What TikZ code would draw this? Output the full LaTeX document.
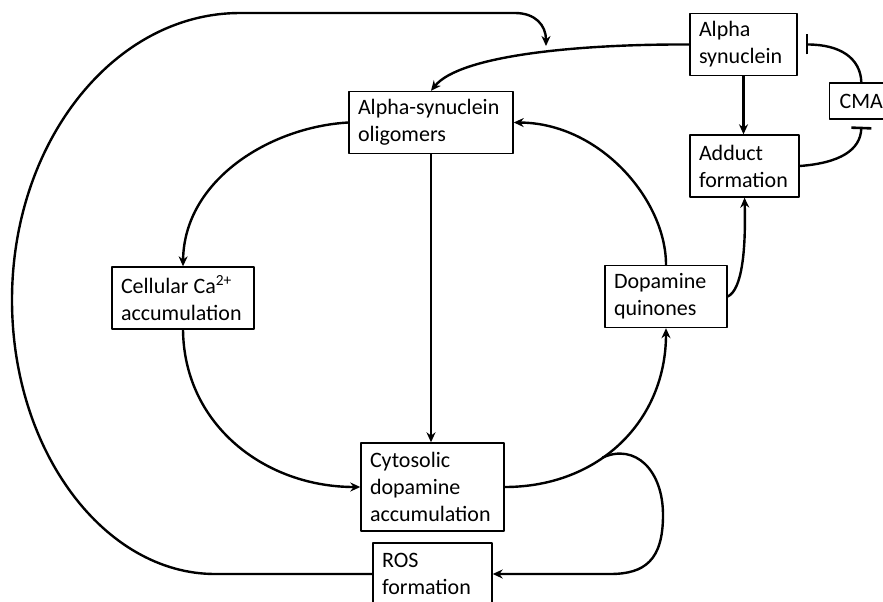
\documentclass[tikz,border=0pt]{standalone}
\usepackage{fontspec}
\setmainfont{Carlito}
\usetikzlibrary{arrows.meta}
\begin{document}
\begin{tikzpicture}[x=1pt,y=-1pt,>={Stealth[length=10pt,width=9pt]}, line width=2.4pt, line join=round, line cap=round,
	font=\fontsize{22}{27}\selectfont,
	box/.style={draw,line width=1.4pt,align=flush left,inner xsep=9pt,inner ysep=0pt,minimum height=62pt},
	inhibit/.style={-{Bar[width=20pt,line width=2.6pt]}}]
	\useasboundingbox (0,0) rectangle (883,602);
	\path
	(743.5,44.5) node[box,text width=89pt] (AS) {Alpha\\synuclein}
	(829,101) node[box,anchor=west,inner xsep=10pt,minimum height=36pt] (CMA) {CMA}
	(744.5,166) node[box,text width=91pt] (Add) {Adduct\\formation}
	(431,122.5) node[box,text width=146pt] (Olig) {Alpha-synuclein\\oligomers}
	(183,298) node[box,text width=124pt] (Ca) {Cellular Ca\textsuperscript{2+}\\accumulation}
	(666,296.5) node[box,text width=104pt] (DQ) {Dopamine\\quinones}
	(432.5,487) node[box,text width=125pt,minimum height=88pt] (Cyto) {Cytosolic\\dopamine\\accumulation}
	(432.5,574) node[box,text width=101pt] (ROS) {ROS\\formation}
	(546,46) coordinate (T)
	;
	% straight arrows
	\draw[->] (AS.south) -- (AS.south |- Add.north);
	\draw[->] (Olig.south) -- (Olig.south |- Cyto.north);
	% inner cycle
	\draw[->] (Olig.west) .. controls (270,127) and (184,180) .. (Ca.north);
	\draw[->] (Ca.south) .. controls (184,425) and (265,487) .. (Cyto.west);
	\draw[->] (Cyto.east) .. controls (600,487) and (666,420) .. (DQ.south) coordinate[pos=0.4] (K);
	\draw[->] (DQ.north) .. controls (666,200) and (600,123) .. (Olig.east);
	\draw[->] (DQ.east) .. controls (742,290) and (746,250) .. (Add.south);
	\draw[->] (AS.west) .. controls (580,44) and (460,55) .. (Olig.north);
	% CMA
	\draw[inhibit] (Add.east) .. controls (840,163) and (860.5,150) .. ([yshift=-7pt]CMA.south);
	\draw[inhibit] (CMA.north) .. controls (860.5,58) and (840,44.5) .. ([xshift=8pt]AS.east);
	% ROS loops
	\draw[->] (K) .. controls (635,443) and (663,470) .. (663,515) .. controls (663,560) and (645,574) .. (610,574) -- (ROS.east);
	\draw[->] (ROS.west) -- (215,574) .. controls (105,574) and (12,452) .. (12,300) .. controls (12,142) and (114,13) .. (240,13) -- (515,13) .. controls (535,13) and (546,25) .. (T);
\end{tikzpicture}
\end{document}
